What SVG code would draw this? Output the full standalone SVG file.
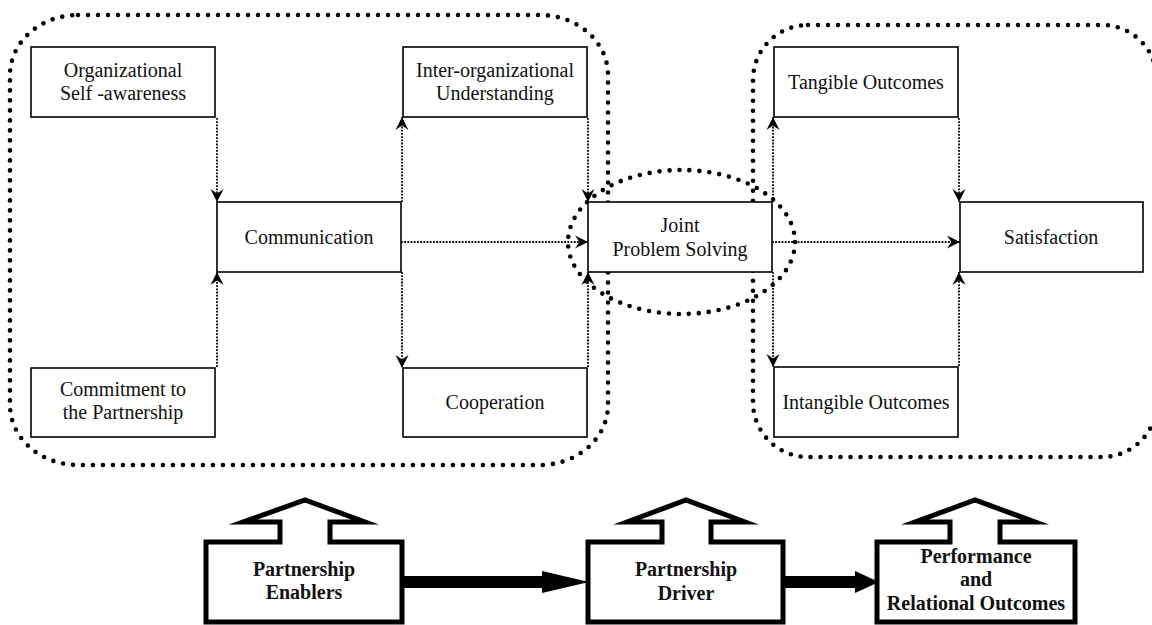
<svg xmlns="http://www.w3.org/2000/svg" width="1152" height="625" viewBox="0 0 1152 625">
<style>
.region{fill:none;stroke:#000;stroke-width:4.6;stroke-linecap:round;stroke-dasharray:0 10;}
.box{fill:#fff;stroke:#000;stroke-width:1.6;}
text{font-family:'Liberation Serif','DejaVu Serif','Times New Roman',serif;font-size:20px;fill:#111;text-anchor:middle;}
.tb{font-weight:bold;}
.conn{fill:none;stroke:#000;stroke-width:1.8;stroke-dasharray:1.8 1.4;}
.big{fill:#fff;stroke:#000;stroke-width:5;stroke-linejoin:miter;stroke-miterlimit:10;}
</style>
<defs>
<marker id="ah" markerUnits="userSpaceOnUse" markerWidth="14" markerHeight="14" viewBox="-13 -7 14 14" refX="0" refY="0" orient="auto">
<path d="M0,0 L-13,-6.5 L-8.5,0 L-13,6.5 Z" fill="#000"/>
</marker>
</defs>
<rect fill="#fff" x="0" y="0" width="1152" height="625"/>
<g id="regions">
<rect class="region" x="10" y="15" width="598" height="450" rx="68" ry="60"/>
<rect class="region" x="753" y="25" width="404" height="432" rx="55" ry="55"/>
<ellipse class="region" cx="681.5" cy="242" rx="113.5" ry="72"/>
</g>
<g id="n-org"><rect class="box" x="31" y="47" width="184" height="70"/><text x="123" y="77">Organizational</text><text x="123" y="100">Self -awareness</text></g>
<g id="n-commit"><rect class="box" x="31" y="368" width="184" height="69"/><text x="123" y="396">Commitment to</text><text x="123" y="419">the Partnership</text></g>
<g id="n-comm"><rect class="box" x="217" y="202" width="184" height="70"/><text x="309" y="244">Communication</text></g>
<g id="n-inter"><rect class="box" x="403" y="47" width="184" height="70"/><text x="495" y="77">Inter-organizational</text><text x="495" y="100">Understanding</text></g>
<g id="n-coop"><rect class="box" x="403" y="368" width="184" height="69"/><text x="495" y="409">Cooperation</text></g>
<g id="n-joint"><rect class="box" x="588" y="202" width="184" height="70"/><text x="680" y="232">Joint</text><text x="680" y="256">Problem Solving</text></g>
<g id="n-tang"><rect class="box" x="774" y="47" width="184" height="70"/><text x="866" y="89">Tangible Outcomes</text></g>
<g id="n-intang"><rect class="box" x="774" y="367" width="184" height="70"/><text x="866" y="409">Intangible Outcomes</text></g>
<g id="n-sat"><rect class="box" x="960" y="202" width="183" height="70"/><text x="1051" y="244">Satisfaction</text></g>
<g id="connectors">
<line class="conn" x1="217" y1="118" x2="217" y2="202" marker-end="url(#ah)"/>
<line class="conn" x1="217" y1="367" x2="217" y2="272" marker-end="url(#ah)"/>
<line class="conn" x1="402" y1="202" x2="402" y2="117" marker-end="url(#ah)"/>
<line class="conn" x1="402" y1="272" x2="402" y2="368" marker-end="url(#ah)"/>
<line class="conn" x1="401" y1="242" x2="588" y2="242" marker-end="url(#ah)"/>
<line class="conn" x1="588" y1="118" x2="588" y2="202" marker-end="url(#ah)"/>
<line class="conn" x1="588" y1="367" x2="588" y2="272" marker-end="url(#ah)"/>
<line class="conn" x1="773" y1="202" x2="773" y2="117" marker-end="url(#ah)"/>
<line class="conn" x1="773" y1="272" x2="773" y2="367" marker-end="url(#ah)"/>
<line class="conn" x1="772" y1="242" x2="960" y2="242" marker-end="url(#ah)"/>
<line class="conn" x1="959" y1="118" x2="959" y2="202" marker-end="url(#ah)"/>
<line class="conn" x1="959" y1="366" x2="959" y2="272" marker-end="url(#ah)"/>
<rect x="402" y="576" width="141" height="12" fill="#000"/>
<polygon points="542,571 589,582 542,593" fill="#000"/>
<rect x="783" y="576" width="73" height="12" fill="#000"/>
<polygon points="855,571 879,582 855,593" fill="#000"/>
</g>
<g id="n-enablers"><path class="big" d="M206,542 H280 V522 H243 L305,500 L365,522 H330 V542 H402 V622 H206 Z"/><text class="tb" x="304" y="576">Partnership</text><text class="tb" x="304" y="599">Enablers</text></g>
<g id="n-driver"><path class="big" d="M588,542 H662 V522 H627 L686,500 L745,522 H711 V542 H783 V622 H588 Z"/><text class="tb" x="686" y="576">Partnership</text><text class="tb" x="686" y="600">Driver</text></g>
<g id="n-perf"><path class="big" d="M877,542 H950 V522 H915 L975,500 L1035,522 H1000 V542 H1075 V622 H877 Z"/><text class="tb" x="976" y="563">Performance</text><text class="tb" x="976" y="586">and</text><text class="tb" x="976" y="610">Relational Outcomes</text></g>
</svg>
